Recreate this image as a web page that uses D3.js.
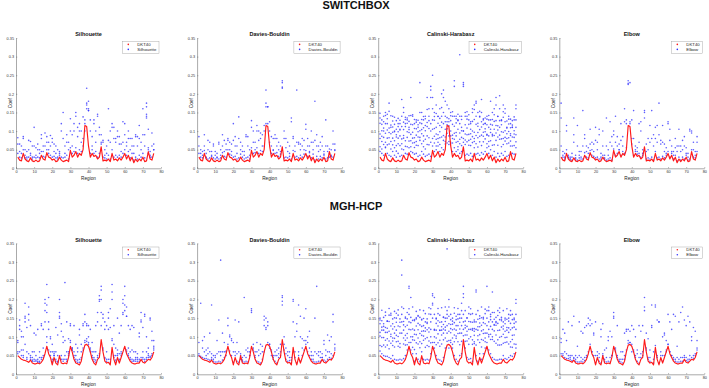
<!DOCTYPE html>
<html><head><meta charset="utf-8">
<script src="https://cdn.jsdelivr.net/npm/d3@7"></script>
<style>body{margin:0;background:#fff}svg{display:block}text{font-family:"Liberation Sans",Arial,sans-serif}</style>
</head><body>
<script>
// ---------- data ----------
const rowTitles = ["SWITCHBOX", "MGH-HCP"];
const methodNames = ["Silhouette", "Davies-Bouldin", "Calinski-Harabasz", "Elbow"];
const refName = "DKT40";
const xTicks = [0,10,20,30,40,50,60,70,80];
const yTicks = [0,0.05,0.1,0.15,0.2,0.25,0.3,0.35];
const yTickLabels = ["0","0.05","0.1","0.15","0.2","0.25","0.3","0.35"];

// DKT40 reference coefficient per region (1..76)
const swDKT = [.030,.022,.020,.040,.025,.020,.018,.028,.020,.018,.022,.018,.020,.035,.025,.022,.042,.030,.028,.022,.025,.018,.020,.030,.022,.018,.020,.022,.018,.048,.030,.035,.045,.030,.040,.035,.050,.115,.112,.060,.030,.040,.032,.035,.025,.030,.058,.020,.022,.020,.025,.018,.040,.022,.025,.020,.028,.022,.030,.040,.025,.035,.020,.030,.015,.025,.018,.025,.020,.030,.018,.020,.045,.025,.022,.040];
const mgDKT = [.050,.045,.040,.038,.037,.035,.032,.038,.030,.028,.028,.030,.028,.032,.040,.055,.075,.055,.045,.025,.045,.030,.025,.050,.030,.028,.030,.028,.045,.075,.060,.040,.030,.028,.025,.035,.060,.078,.080,.075,.060,.040,.030,.025,.040,.045,.093,.060,.035,.030,.032,.025,.072,.040,.025,.045,.030,.045,.060,.075,.055,.045,.035,.030,.028,.028,.030,.030,.040,.032,.030,.035,.040,.038,.045,.060];

// SWITCHBOX - Silhouette
const swSilA = [.082,.065,.060,.085,.050,.045,.075,.072,.060,.110,.055,.065,.050,.090,.060,.095,.085,.070,.088,.080,.065,.060,.050,.045,.120,.150,.060,.090,.070,.133,.090,.120,.150,.110,.120,.100,.138,.130,.215,.180,.130,.085,.130,.100,.145,.110,.090,.075,.050,.060,.160,.100,.120,.110,.080,.100,.085,.065,.125,.120,.070,.100,.080,.080,.060,.090,.085,.115,.070,.160,.090,.175,.050,.045,.095,.065];
const swSilB = [.065,.045,.040,.080,.035,.030,.050,.040,.030,.060,.035,.050,.040,.080,.045,.060,.070,.050,.060,.070,.045,.040,.030,.035,.100,.080,.040,.070,.050,.100,.060,.100,.140,.085,.100,.070,.080,.100,.175,.160,.100,.060,.120,.070,.140,.090,.070,.070,.035,.040,.075,.070,.110,.080,.070,.085,.065,.045,.070,.090,.060,.080,.050,.060,.040,.085,.060,.080,.050,.090,.060,.165,.040,.035,.060,.050];
const swSilC = [.040,.030,.028,.050,.028,.025,.030,.035,.025,.030,.028,.030,.028,.045,.032,.030,.050,.040,.035,.030,.032,.028,.025,.040,.030,.028,.030,.035,.025,.055,.040,.045,.055,.040,.050,.045,.060,.120,.160,.155,.040,.050,.040,.045,.030,.040,.065,.030,.028,.025,.035,.025,.050,.030,.035,.030,.035,.030,.040,.050,.035,.045,.028,.040,.022,.030,.025,.035,.030,.040,.028,.145,.055,.030,.030,.050];
const swSilX = [[72,.140],[72,.135],[73,.105],[39,.170],[40,.155]];

// SWITCHBOX - Davies-Bouldin
const swDBA = [.085,.050,.045,.090,.040,.075,.070,.045,.065,.045,.040,.070,.050,.090,.075,.065,.080,.070,.065,.120,.085,.060,.138,.070,.060,.045,.090,.085,.050,.128,.100,.070,.115,.100,.095,.090,.115,.210,.165,.125,.085,.080,.090,.080,.070,.060,.235,.100,.080,.070,.060,.135,.085,.060,.210,.070,.065,.080,.075,.118,.080,.060,.100,.070,.180,.090,.060,.070,.085,.045,.130,.060,.040,.050,.100,.065];
const swDBB = [.060,.040,.035,.060,.030,.050,.045,.035,.060,.035,.030,.065,.035,.060,.045,.050,.075,.050,.045,.075,.060,.040,.080,.050,.045,.035,.085,.060,.035,.110,.070,.050,.100,.075,.080,.060,.100,.175,.165,.100,.060,.050,.080,.060,.050,.045,.230,.080,.055,.045,.040,.125,.080,.045,.070,.065,.050,.060,.050,.105,.060,.045,.070,.050,.075,.060,.045,.050,.060,.035,.060,.045,.030,.035,.065,.050];
const swDBC = [.040,.030,.028,.048,.028,.025,.028,.032,.028,.025,.028,.025,.028,.042,.032,.030,.050,.038,.035,.030,.032,.025,.028,.038,.030,.025,.028,.030,.025,.055,.040,.042,.055,.040,.048,.045,.060,.120,.120,.070,.040,.048,.040,.042,.032,.038,.218,.028,.030,.028,.032,.025,.048,.030,.032,.028,.035,.030,.038,.048,.032,.042,.028,.038,.022,.032,.025,.032,.028,.038,.025,.028,.052,.032,.030,.048];
const swDBX = [[47,.215],[38,.165]];

// SWITCHBOX - Calinski-Harabasz
const swCHA = [.135,.130,.100,.150,.120,.175,.110,.140,.100,.090,.120,.105,.185,.150,.120,.130,.110,.190,.140,.120,.130,.110,.230,.150,.130,.140,.190,.160,.220,.250,.150,.170,.140,.160,.200,.210,.180,.170,.160,.150,.140,.235,.140,.130,.305,.140,.230,.150,.140,.130,.120,.160,.170,.180,.150,.140,.185,.130,.120,.140,.130,.180,.150,.160,.190,.140,.195,.130,.170,.160,.110,.140,.120,.110,.130,.170];
const swCHB = [.092,.118,.064,.142,.081,.153,.072,.127,.098,.061,.134,.087,.112,.163,.074,.121,.104,.142,.068,.131,.089,.117,.150,.093,.139,.078,.158,.107,.210,.190,.086,.147,.121,.098,.163,.190,.072,.136,.114,.087,.152,.220,.096,.128,.140,.083,.225,.117,.071,.144,.093,.126,.158,.175,.082,.138,.150,.097,.121,.066,.142,.105,.131,.088,.170,.114,.160,.079,.137,.148,.093,.119,.073,.128,.101,.160];
const swCHC = [.121,.072,.108,.057,.133,.096,.141,.063,.118,.084,.066,.129,.079,.104,.137,.058,.126,.091,.144,.069,.124,.061,.101,.131,.058,.115,.087,.140,.190,.160,.129,.078,.139,.115,.084,.150,.125,.094,.133,.141,.068,.140,.122,.072,.120,.131,.220,.064,.132,.091,.125,.069,.097,.140,.121,.071,.125,.133,.079,.132,.087,.130,.062,.126,.095,.139,.078,.128,.097,.083,.127,.068,.132,.084,.138,.071];
const swCHD = [.058,.101,.083,.120,.063,.108,.093,.081,.137,.105,.098,.061,.140,.081,.112,.098,.073,.118,.097,.107,.072,.098,.075,.066,.109,.133,.064,.082,.120,.130,.068,.110,.090,.134,.110,.120,.105,.068,.087,.100,.118,.094,.070,.105,.095,.110,.100,.140,.090,.118,.061,.100,.131,.088,.057,.104,.089,.071,.098,.117,.110,.074,.116,.105,.128,.062,.110,.098,.064,.101,.066,.132,.088,.110,.061,.110];
const swCHE = [.080,.052,.125,.070,.103,.065,.052,.111,.074,.046,.081,.103,.052,.088,.059,.135,.096,.058,.117,.082,.106,.129,.083,.120,.073,.052,.112,.128,.100,.105,.107,.060,.070,.082,.140,.075,.084,.117,.064,.066,.089,.078,.133,.058,.078,.061,.100,.092,.108,.062,.105,.085,.072,.066,.113,.086,.061,.118,.106,.089,.059,.096,.091,.063,.115,.084,.089,.117,.080,.073,.108,.082,.109,.060,.083,.090];
const swCHF = [.045,.040,.035,.055,.040,.035,.032,.045,.035,.030,.040,.032,.035,.050,.040,.038,.055,.045,.042,.038,.040,.032,.035,.045,.038,.032,.035,.038,.032,.060,.045,.050,.060,.045,.055,.050,.065,.125,.125,.070,.045,.055,.045,.050,.040,.045,.070,.035,.038,.035,.040,.032,.055,.038,.040,.035,.042,.038,.045,.055,.040,.050,.035,.045,.030,.040,.032,.040,.035,.045,.032,.035,.060,.040,.038,.055];
const swCHG = [.148,.086,.140,.094,.145,.082,.116,.097,.055,.128,.112,.120,.066,.124,.131,.083,.141,.074,.081,.056,.062,.084,.122,.104,.087,.101,.123,.063,.070,.080,.139,.092,.080,.064,.124,.088,.140,.106,.072,.128,.080,.113,.087,.145,.066,.101,.080,.076,.152,.075,.078,.150,.080,.118,.096,.153,.111,.086,.135,.091,.072,.118,.087,.144,.075,.103,.128,.058,.152,.125,.080,.099,.093,.116,.092,.130];

// SWITCHBOX - Elbow
const swElbA = [.175,.045,.040,.115,.035,.030,.040,.135,.035,.115,.045,.045,.155,.090,.060,.055,.105,.070,.065,.110,.070,.105,.040,.100,.035,.135,.050,.125,.085,.100,.140,.085,.065,.120,.085,.160,.130,.235,.230,.130,.155,.060,.055,.120,.125,.050,.155,.065,.080,.115,.155,.090,.110,.115,.175,.075,.115,.065,.055,.125,.105,.060,.045,.080,.060,.105,.060,.075,.085,.055,.040,.105,.100,.070,.045,.085];
const swElbB = [.135,.035,.030,.100,.028,.025,.030,.090,.028,.060,.035,.030,.060,.080,.045,.040,.065,.050,.045,.075,.050,.090,.030,.060,.028,.060,.035,.070,.060,.090,.070,.060,.050,.075,.060,.125,.120,.228,.120,.080,.080,.050,.045,.070,.100,.040,.150,.045,.050,.070,.080,.060,.080,.070,.090,.065,.070,.045,.040,.120,.075,.045,.035,.055,.045,.060,.045,.050,.060,.040,.030,.100,.095,.050,.035,.070];
const swElbC = [.060,.030,.025,.050,.030,.025,.022,.070,.025,.022,.028,.025,.025,.042,.030,.028,.048,.035,.032,.028,.030,.025,.025,.035,.025,.022,.025,.028,.022,.052,.035,.040,.050,.035,.045,.040,.055,.225,.125,.065,.035,.045,.038,.040,.030,.035,.135,.025,.028,.025,.030,.022,.045,.028,.030,.025,.032,.028,.035,.045,.030,.040,.025,.035,.020,.030,.022,.030,.025,.035,.022,.025,.050,.030,.028,.045];

// MGH-HCP - Silhouette
const mgSilA = [.090,.145,.115,.100,.190,.125,.180,.130,.060,.110,.105,.120,.060,.135,.120,.200,.240,.205,.100,.080,.060,.125,.105,.200,.135,.100,.245,.140,.095,.135,.070,.130,.080,.070,.120,.080,.135,.160,.135,.130,.120,.085,.060,.130,.165,.210,.235,.160,.140,.130,.165,.175,.240,.130,.070,.150,.110,.130,.200,.235,.180,.130,.120,.130,.125,.060,.055,.110,.165,.125,.160,.100,.070,.150,.115,.090];
const mgSilB = [.085,.130,.100,.065,.155,.060,.160,.050,.045,.060,.050,.040,.045,.130,.070,.190,.185,.140,.095,.060,.050,.060,.050,.165,.115,.085,.090,.060,.060,.130,.065,.060,.050,.060,.105,.060,.130,.140,.130,.100,.070,.060,.045,.060,.140,.200,.225,.150,.120,.060,.150,.125,.220,.080,.050,.065,.055,.060,.190,.210,.155,.070,.060,.065,.060,.045,.045,.100,.145,.060,.155,.060,.055,.145,.090,.075];
const mgSilC = [.060,.120,.065,.050,.150,.045,.145,.045,.038,.040,.038,.035,.035,.045,.050,.170,.165,.120,.060,.040,.055,.040,.035,.155,.050,.040,.050,.040,.055,.090,.070,.050,.040,.038,.040,.045,.070,.090,.095,.085,.065,.050,.040,.038,.050,.195,.200,.070,.045,.040,.120,.040,.200,.050,.038,.055,.040,.055,.165,.185,.065,.055,.045,.040,.038,.040,.040,.040,.140,.045,.040,.045,.050,.048,.055,.070];
const mgSilD = [.055,.060,.050,.045,.140,.040,.055,.040,.035,.035,.035,.032,.032,.040,.045,.140,.085,.065,.050,.035,.050,.035,.032,.150,.040,.035,.040,.035,.050,.085,.065,.045,.035,.032,.032,.040,.065,.085,.088,.080,.060,.045,.035,.032,.045,.055,.165,.065,.042,.035,.040,.032,.090,.045,.032,.050,.035,.050,.160,.170,.060,.050,.040,.035,.035,.035,.035,.035,.045,.040,.035,.040,.045,.045,.050,.065];
const mgSilX = [[5,.080],[47,.130],[61,.155],[17,.100],[53,.095]];

// MGH-HCP - Davies-Bouldin
const mgDBA = [.085,.190,.090,.100,.065,.070,.110,.185,.050,.050,.090,.145,.305,.110,.085,.060,.150,.105,.095,.085,.145,.085,.140,.050,.045,.205,.065,.070,.060,.175,.080,.060,.085,.065,.080,.075,.155,.150,.140,.080,.060,.050,.060,.065,.070,.080,.210,.100,.070,.060,.060,.045,.200,.100,.135,.185,.155,.095,.150,.175,.100,.115,.060,.050,.150,.235,.060,.060,.055,.090,.065,.105,.090,.100,.160,.080];
const mgDBB = [.050,.045,.070,.060,.050,.055,.060,.055,.040,.045,.055,.060,.050,.060,.060,.050,.130,.100,.090,.060,.060,.055,.060,.040,.038,.050,.045,.060,.050,.170,.070,.050,.060,.050,.055,.060,.145,.125,.130,.070,.050,.040,.050,.050,.055,.060,.205,.080,.055,.050,.045,.038,.195,.060,.115,.060,.100,.070,.090,.090,.085,.070,.050,.040,.060,.055,.050,.045,.045,.080,.050,.060,.060,.055,.140,.070];
const mgDBC = [.055,.048,.045,.042,.042,.040,.038,.045,.035,.033,.033,.035,.033,.038,.045,.062,.080,.062,.050,.032,.050,.035,.032,.055,.035,.033,.035,.033,.050,.165,.065,.045,.035,.033,.030,.040,.130,.120,.085,.080,.065,.045,.035,.030,.045,.050,.195,.065,.040,.035,.037,.030,.140,.045,.030,.050,.035,.050,.065,.080,.060,.050,.040,.035,.033,.033,.035,.035,.045,.038,.035,.040,.045,.043,.050,.065];
const mgDBX = [[47,.185],[13,.060],[8,.040],[37,.060]];

// MGH-HCP - Calinski-Harabasz
const mgCHA = [.150,.171,.128,.166,.142,.176,.158,.135,.168,.150,.172,.139,.305,.176,.153,.165,.235,.205,.180,.146,.168,.155,.172,.145,.170,.162,.139,.178,.175,.215,.205,.148,.176,.158,.178,.153,.180,.335,.200,.160,.142,.178,.155,.176,.160,.190,.235,.170,.150,.180,.310,.162,.145,.225,.170,.156,.180,.148,.174,.235,.180,.160,.220,.165,.138,.170,.177,.152,.170,.145,.175,.150,.170,.160,.146,.200];
const mgCHB = [.135,.098,.152,.112,.078,.141,.163,.089,.127,.104,.158,.082,.265,.132,.091,.148,.230,.119,.072,.143,.106,.157,.087,.128,.149,.095,.136,.161,.084,.210,.160,.097,.143,.118,.081,.152,.126,.170,.180,.091,.134,.163,.102,.148,.079,.170,.215,.124,.151,.095,.160,.139,.087,.220,.118,.149,.093,.138,.162,.170,.106,.154,.165,.088,.131,.157,.099,.143,.121,.085,.147,.112,.158,.093,.136,.190];
const mgCHC = [.102,.143,.078,.157,.123,.089,.107,.148,.096,.139,.088,.127,.180,.097,.150,.109,.160,.085,.144,.118,.151,.081,.132,.104,.091,.140,.077,.113,.140,.190,.118,.150,.084,.139,.127,.092,.150,.150,.155,.133,.097,.121,.146,.087,.139,.150,.205,.088,.115,.162,.140,.092,.140,.160,.147,.085,.131,.109,.097,.150,.140,.093,.140,.147,.105,.092,.146,.126,.083,.115,.099,.142,.087,.124,.105,.160];
const mgCHD = [.077,.118,.135,.091,.142,.115,.083,.121,.151,.087,.129,.148,.140,.118,.104,.079,.140,.138,.100,.091,.084,.119,.109,.147,.116,.072,.119,.089,.120,.185,.120,.118,.129,.091,.105,.133,.097,.130,.135,.111,.119,.087,.118,.130,.110,.130,.140,.142,.089,.120,.120,.118,.115,.140,.092,.127,.151,.091,.135,.130,.120,.128,.120,.116,.152,.136,.078,.101,.140,.098,.125,.081,.119,.146,.081,.140];
const mgCHE = [.112,.074,.098,.125,.095,.068,.129,.097,.073,.118,.101,.072,.110,.141,.078,.131,.120,.100,.121,.066,.129,.097,.071,.082,.130,.115,.098,.124,.100,.150,.100,.079,.108,.117,.140,.110,.118,.110,.115,.146,.080,.138,.096,.109,.150,.110,.120,.105,.128,.080,.100,.122,.104,.120,.127,.106,.073,.119,.110,.110,.100,.107,.100,.131,.083,.117,.118,.079,.107,.135,.118,.124,.073,.104,.126,.120];
const mgCHF = [.062,.055,.050,.048,.048,.045,.042,.050,.040,.038,.038,.040,.038,.042,.050,.065,.085,.065,.055,.035,.055,.040,.035,.060,.040,.038,.040,.038,.055,.085,.070,.050,.040,.038,.035,.045,.070,.088,.090,.085,.070,.050,.040,.035,.050,.055,.103,.070,.045,.040,.042,.035,.082,.050,.035,.055,.040,.055,.070,.085,.065,.055,.045,.040,.038,.038,.040,.040,.050,.042,.040,.045,.050,.048,.055,.070];
const mgCHG = [.145,.126,.118,.073,.112,.158,.101,.077,.110,.163,.075,.110,.160,.081,.127,.097,.175,.152,.092,.107,.148,.136,.152,.115,.102,.124,.148,.074,.160,.070,.085,.136,.162,.075,.118,.121,.141,.160,.070,.122,.150,.105,.130,.160,.121,.088,.160,.131,.105,.141,.175,.080,.122,.078,.103,.137,.116,.152,.087,.070,.170,.146,.093,.133,.141,.078,.165,.147,.129,.150,.086,.160,.136,.072,.150,.080];

// MGH-HCP - Elbow
const mgElbA = [.095,.120,.110,.090,.140,.050,.130,.155,.050,.075,.140,.115,.110,.125,.130,.150,.145,.135,.110,.140,.060,.055,.120,.135,.065,.070,.100,.115,.100,.165,.070,.130,.040,.060,.060,.110,.120,.120,.115,.130,.120,.100,.065,.130,.115,.130,.205,.110,.095,.065,.185,.060,.185,.145,.140,.060,.100,.110,.090,.160,.140,.120,.160,.155,.075,.140,.165,.180,.145,.130,.155,.140,.100,.125,.115,.090];
const mgElbB = [.085,.055,.060,.055,.050,.045,.050,.045,.040,.045,.050,.045,.040,.045,.050,.135,.130,.060,.105,.050,.040,.045,.100,.050,.040,.045,.090,.045,.050,.155,.060,.050,.035,.040,.040,.050,.115,.090,.085,.060,.060,.050,.055,.045,.055,.060,.180,.070,.045,.045,.130,.040,.180,.050,.140,.040,.050,.105,.060,.080,.060,.050,.045,.040,.045,.040,.045,.045,.050,.045,.040,.050,.090,.050,.055,.070];
const mgElbC = [.055,.050,.045,.042,.042,.040,.037,.042,.035,.033,.033,.035,.033,.037,.045,.060,.080,.060,.050,.030,.050,.035,.030,.055,.035,.033,.035,.033,.050,.150,.065,.045,.035,.033,.030,.040,.065,.083,.085,.080,.065,.045,.035,.030,.045,.050,.170,.065,.040,.035,.125,.030,.077,.045,.030,.050,.035,.050,.065,.080,.060,.050,.040,.035,.033,.033,.035,.035,.045,.037,.035,.040,.045,.043,.050,.065];

// ---------- layout ----------
const W = 709, H = 388;
const colX = [16, 197.1, 378.2, 559.3];
const plotW = 145;
const rows = [{top:38, bottom:168.3}, {top:243.3, bottom:374.3}];
const panels = [
  {row:0,col:0,layers:[swSilA,swSilB,swSilC],extra:swSilX,dkt:swDKT},
  {row:0,col:1,layers:[swDBA,swDBB,swDBC],extra:swDBX,dkt:swDKT},
  {row:0,col:2,layers:[swCHA,swCHB,swCHC,swCHD,swCHE,swCHF,swCHG],extra:[],dkt:swDKT},
  {row:0,col:3,layers:[swElbA,swElbB,swElbC],extra:[],dkt:swDKT},
  {row:1,col:0,layers:[mgSilA,mgSilB,mgSilC,mgSilD],extra:mgSilX,dkt:mgDKT},
  {row:1,col:1,layers:[mgDBA,mgDBB,mgDBC],extra:mgDBX,dkt:mgDKT},
  {row:1,col:2,layers:[mgCHA,mgCHB,mgCHC,mgCHD,mgCHE,mgCHF,mgCHG],extra:[],dkt:mgDKT},
  {row:1,col:3,layers:[mgElbA,mgElbB,mgElbC],extra:[],dkt:mgDKT}
];
const BLUE = "#3535ff", RED = "#ff1a1a", AXC = "#555";

const svg = d3.select("body").append("svg").attr("width", W).attr("height", H);

svg.append("text").attr("x", 356).attr("y", 9.4).attr("text-anchor","middle")
  .attr("font-size", 11).attr("font-weight","bold").attr("fill","#111").text(rowTitles[0]);
svg.append("text").attr("x", 356).attr("y", 210.2).attr("text-anchor","middle")
  .attr("font-size", 11).attr("font-weight","bold").attr("fill","#111").text(rowTitles[1]);

panels.forEach(p => {
  const r = rows[p.row];
  const x0 = colX[p.col];
  const x = d3.scaleLinear().domain([0,80]).range([x0, x0 + plotW]);
  const y = d3.scaleLinear().domain([0,0.35]).range([r.bottom, r.top]);
  const g = svg.append("g");
  const name = methodNames[p.col];

  // axes
  const ax = g.append("g").attr("transform", `translate(0,${r.bottom})`)
    .call(d3.axisBottom(x).tickValues(xTicks).tickSizeInner(-1.3).tickSizeOuter(0).tickPadding(2.2));
  const ay = g.append("g").attr("transform", `translate(${x0},0)`)
    .call(d3.axisLeft(y).tickValues(yTicks).tickFormat((d,i)=>yTickLabels[i]).tickSizeInner(-1.3).tickSizeOuter(0).tickPadding(2));
  [ax, ay].forEach(a => {
    a.select(".domain").attr("stroke", AXC).attr("stroke-width", 0.5);
    a.selectAll(".tick line").attr("stroke", AXC).attr("stroke-width", 0.4);
    a.selectAll(".tick text").attr("font-size", 3.8).attr("fill", "#333")
      .attr("font-family", '"Liberation Sans", Arial, sans-serif');
  });

  // blue points
  const pts = [];
  p.layers.forEach(L => L.forEach((v,i) => { if (v != null) pts.push([i+1, v]); }));
  p.extra.forEach(e => pts.push(e));
  g.append("g").selectAll("circle").data(pts).join("circle")
    .attr("cx", d => x(d[0])).attr("cy", d => y(d[1])).attr("r", 0.8)
    .attr("fill", BLUE).attr("fill-opacity", 0.8);

  // red DKT40
  const line = d3.line().x((d,i)=>x(i+1)).y(d=>y(d));
  g.append("path").datum(p.dkt).attr("d", line).attr("fill","none")
    .attr("stroke", RED).attr("stroke-width", 1.15).attr("stroke-linejoin","round");

  // labels
  g.append("text").attr("x", x0 + plotW/2).attr("y", r.top - 1.8).attr("text-anchor","middle")
    .attr("font-size", 5.5).attr("font-weight","bold").attr("fill","#111").text(name);
  g.append("text").attr("x", x0 + plotW/2).attr("y", r.bottom + 11.4).attr("text-anchor","middle")
    .attr("font-size", 4.7).attr("fill","#222").text("Region");
  g.append("text").attr("transform", `translate(${x0-4.4},${(r.top+r.bottom)/2}) rotate(-90)`)
    .attr("text-anchor","middle").attr("font-size", 4.8).attr("fill","#222").text("Coef");

  // legend
  const lg = g.append("g");
  const t2 = lg.append("text").attr("font-size", 4.3).attr("fill","#222").text(name);
  const t1 = lg.append("text").attr("font-size", 4.3).attr("fill","#222").text(refName);
  const tw = Math.max(t1.node().getComputedTextLength(), t2.node().getComputedTextLength());
  const bw = 14.7 + tw + 2.6, bh = 11.6;
  const bx = x0 + plotW - 2 - bw, by = r.top + 3.7;
  lg.insert("rect", "text").attr("x", bx).attr("y", by).attr("width", bw).attr("height", bh)
    .attr("fill","#fff").attr("stroke","#9a9a9a").attr("stroke-width",0.4);
  t1.attr("x", bx + 14.7).attr("y", by + 2.6 + 1.5);
  t2.attr("x", bx + 14.7).attr("y", by + 7.6 + 1.5);
  lg.append("circle").attr("cx", bx + 5.7).attr("cy", by + 2.7).attr("r", 0.8).attr("fill", RED);
  lg.append("circle").attr("cx", bx + 5.7).attr("cy", by + 7.7).attr("r", 0.8).attr("fill", BLUE);
});
</script>
</body></html>
